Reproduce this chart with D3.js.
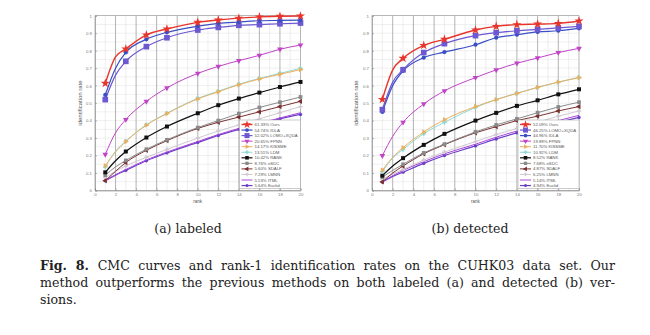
<!DOCTYPE html>
<html>
<head>
<meta charset="utf-8">
<script src="https://cdn.jsdelivr.net/npm/d3@7"></script>
<style>
body{margin:0;background:#fff;}
svg{display:block;}
</style>
</head>
<body>
<svg width="650" height="335"></svg>
<script>
// ranks where values were read; markers skip rank 2
var ranks = [1,2,3,5,7,10,12,14,16,18,20];
var markerRanks = [1,3,5,7,10,12,14,16,18,20];
var xTicks = [0,2,4,6,8,10,12,14,16,18,20];
var yTicks = [0,0.1,0.2,0.3,0.4,0.5,0.6,0.7,0.8,0.9,1];

// (a) labeled
var labNames = ["61.33% Ours","54.74% IDLA","52.02% LOMO+XQDA","20.65% FPNN","14.17% KISSME","13.51% LDM","10.42% RANK","8.76% eSDC","5.60% SDALF","7.29% LMNN","5.53% ITML","5.64% Euclid"];
var labOurs   = [0.613,0.765,0.81,0.89,0.924,0.962,0.975,0.986,0.993,0.997,0.998];
var labIDLA   = [0.547,0.70,0.79,0.865,0.905,0.94,0.956,0.964,0.971,0.973,0.975];
var labLOMO   = [0.520,0.66,0.739,0.823,0.874,0.918,0.933,0.945,0.949,0.954,0.958];
var labFPNN   = [0.2065,0.33,0.406,0.51,0.587,0.67,0.71,0.743,0.773,0.808,0.832];
var labKISSME = [0.142,0.22,0.28,0.374,0.44,0.524,0.565,0.605,0.638,0.665,0.691];
var labLDM    = [0.135,0.225,0.282,0.376,0.442,0.527,0.568,0.608,0.641,0.670,0.699];
var labRANK   = [0.104,0.17,0.223,0.303,0.366,0.442,0.488,0.526,0.56,0.592,0.621];
var labESDC   = [0.088,0.135,0.172,0.236,0.29,0.36,0.40,0.44,0.475,0.505,0.535];
var labSDALF  = [0.056,0.11,0.16,0.23,0.285,0.355,0.39,0.42,0.45,0.48,0.51];
var labLMNN   = [0.073,0.11,0.14,0.19,0.235,0.30,0.34,0.375,0.41,0.445,0.48];
var labITML   = [0.055,0.09,0.12,0.175,0.22,0.28,0.32,0.355,0.385,0.415,0.445];
var labEuclid = [0.056,0.088,0.115,0.17,0.215,0.275,0.315,0.35,0.38,0.41,0.435];

// (b) detected
var detNames = ["52.09% Ours","46.25% LOMO+XQDA","44.96% IDLA","19.89% FPNN","11.70% KISSME","10.92% LDM","8.52% RANK","7.68% eSDC","4.87% SDALF","6.25% LMNN","5.14% ITML","4.94% Euclid"];
var detOurs   = [0.521,0.69,0.756,0.83,0.865,0.918,0.939,0.949,0.952,0.956,0.97];
var detLOMO   = [0.4625,0.62,0.691,0.789,0.84,0.886,0.903,0.914,0.922,0.93,0.939];
var detIDLA   = [0.4496,0.60,0.684,0.76,0.792,0.834,0.874,0.891,0.907,0.914,0.928];
var detFPNN   = [0.199,0.31,0.39,0.495,0.57,0.646,0.69,0.728,0.758,0.789,0.813];
var detKISSME = [0.117,0.19,0.245,0.335,0.405,0.48,0.52,0.555,0.59,0.62,0.645];
var detLDM    = [0.109,0.185,0.235,0.325,0.39,0.475,0.52,0.557,0.59,0.62,0.648];
var detRANK   = [0.085,0.14,0.185,0.261,0.324,0.40,0.444,0.484,0.516,0.55,0.579];
var detESDC   = [0.077,0.115,0.15,0.215,0.265,0.335,0.375,0.41,0.445,0.478,0.505];
var detSDALF  = [0.049,0.10,0.14,0.21,0.262,0.33,0.365,0.40,0.425,0.455,0.48];
var detLMNN   = [0.0625,0.095,0.12,0.175,0.22,0.28,0.32,0.355,0.39,0.425,0.455];
var detITML   = [0.051,0.085,0.115,0.165,0.21,0.265,0.305,0.34,0.37,0.40,0.43];
var detEuclid = [0.049,0.08,0.105,0.155,0.20,0.255,0.295,0.33,0.36,0.39,0.418];

// styles per method
var styles = {
  "Ours":      {c:"#e8352c", sym:d3.symbolStar,     s:26, w:1.4},
  "IDLA":      {c:"#3a4fc4", sym:d3.symbolCircle,   s:14, w:1.2},
  "LOMO+XQDA": {c:"#6c58d0", sym:d3.symbolSquare,   s:32, w:1.2},
  "FPNN":      {c:"#c043c8", sym:d3.symbolTriangle, s:14, w:1.0, rot:180},
  "KISSME":    {c:"#eab060", sym:d3.symbolTriangle, s:12, w:1.0, rot:90},
  "LDM":       {c:"#8ed8d8", sym:d3.symbolCross,    s:12, w:1.0},
  "RANK":      {c:"#111111", sym:d3.symbolSquare,   s:16, w:1.2},
  "eSDC":      {c:"#8a8a8a", sym:d3.symbolSquare,   s:14, w:1.0},
  "SDALF":     {c:"#7a3030", sym:d3.symbolTriangle, s:12, w:1.0, rot:270},
  "LMNN":      {c:"#d0c8d0", sym:d3.symbolCross,    s:10, w:1.0},
  "ITML":      {c:"#a848d8", sym:null,              s:0,  w:1.0},
  "Euclid":    {c:"#6a3ec8", sym:d3.symbolCircle,   s:9,  w:1.2}
};

var svg = d3.select("svg");
var sans = "Arial, 'Liberation Sans', sans-serif";

function panel(names, series, x0, x1, yl){
  var x = d3.scaleLinear().domain([0,20]).range([x0,x1]);
  var y = d3.scaleLinear().domain([0,1]).range([190.5,15.7]);
  var g = svg.append("g");

  // grid
  g.selectAll(".hm").data(d3.range(0.05,1,0.05)).enter().append("line")
    .attr("x1",x0).attr("x2",x1).attr("y1",function(d){return y(d);}).attr("y2",function(d){return y(d);})
    .attr("stroke","#e6e6e6").attr("stroke-width",0.6);
  g.selectAll(".vm").data(d3.range(1,20,2)).enter().append("line")
    .attr("y1",y(0)).attr("y2",y(1)).attr("x1",function(d){return x(d);}).attr("x2",function(d){return x(d);})
    .attr("stroke","#e2e2e2").attr("stroke-width",0.6);
  g.selectAll(".vM").data(d3.range(2,20,2)).enter().append("line")
    .attr("y1",y(0)).attr("y2",y(1)).attr("x1",function(d){return x(d);}).attr("x2",function(d){return x(d);})
    .attr("stroke","#a0a0a0").attr("stroke-width",0.8);

  // axes
  var ax = g.append("g").attr("transform","translate(0,"+y(0)+")")
    .call(d3.axisBottom(x).tickValues(xTicks).tickSize(-2).tickPadding(2).tickFormat(d3.format("d")));
  var ay = g.append("g").attr("transform","translate("+x0+",0)")
    .call(d3.axisLeft(y).tickValues(yTicks).tickSize(-2).tickPadding(3).tickFormat(function(d){return d===0||d===1?String(d):d3.format(".1f")(d);}));
  [ax,ay].forEach(function(a){
    a.selectAll("path,line").attr("stroke","#888").attr("stroke-width",0.6);
    a.selectAll("text").attr("fill","#777").attr("font-family",sans).attr("font-size",4.3);
  });
  g.append("rect").attr("x",x0).attr("y",y(1)).attr("width",x1-x0).attr("height",y(0)-y(1))
    .attr("fill","none").attr("stroke","#888").attr("stroke-width",0.6);

  // curves
  var line = d3.line().x(function(d){return x(d[0]);}).y(function(d){return y(d[1]);}).curve(d3.curveMonotoneX);
  for (var i=series.length-1;i>=0;i--){
    var key = names[i].split(" ")[1], st = styles[key];
    var pts = ranks.map(function(r,k){return [r,series[i][k]];});
    g.append("path").attr("d",line(pts)).attr("fill","none").attr("stroke",st.c).attr("stroke-width",st.w);
    if (st.sym){
      var mk = pts.filter(function(p){return markerRanks.indexOf(p[0])>=0;});
      g.selectAll(null).data(mk).enter().append("path")
        .attr("d",d3.symbol().type(st.sym).size(st.s))
        .attr("transform",function(p){return "translate("+x(p[0])+","+y(p[1])+")rotate("+(st.rot||0)+")";})
        .attr("fill",st.c);
    }
  }

  // labels
  g.append("text").attr("x",(x0+x1)/2).attr("y",202.5).attr("text-anchor","middle")
    .attr("font-family",sans).attr("font-size",4.5).attr("fill","#555").text("rank");
  g.append("text").attr("transform","translate("+yl+",103)rotate(-90)").attr("text-anchor","middle")
    .attr("font-family",sans).attr("font-size",6).attr("fill","#555").text("identification rate");

  // legend
  var lx = x1-61, ly = 120, lh = 5.55;
  var lg = g.append("g");
  lg.append("rect").attr("x",lx).attr("y",ly).attr("width",61).attr("height",68.5)
    .attr("fill","#fff").attr("stroke","#999").attr("stroke-width",0.5);
  names.forEach(function(n,i){
    var st = styles[n.split(" ")[1]], yy = ly+4.5+i*lh;
    lg.append("line").attr("x1",lx+2).attr("x2",lx+13).attr("y1",yy).attr("y2",yy).attr("stroke",st.c).attr("stroke-width",st.w);
    if (st.sym) lg.append("path").attr("d",d3.symbol().type(st.sym).size(st.s*0.8))
      .attr("transform","translate("+(lx+7.5)+","+yy+")rotate("+(st.rot||0)+")").attr("fill",st.c);
    lg.append("text").attr("x",lx+15).attr("y",yy+1.5).attr("font-family",sans)
      .attr("font-size",4.3).attr("fill","#555").text(n);
  });
}

panel(labNames,[labOurs,labIDLA,labLOMO,labFPNN,labKISSME,labLDM,labRANK,labESDC,labSDALF,labLMNN,labITML,labEuclid],95,300.5,82);
panel(detNames,[detOurs,detLOMO,detIDLA,detFPNN,detKISSME,detLDM,detRANK,detESDC,detSDALF,detLMNN,detITML,detEuclid],372,579,358);

// captions
var serif = "'DejaVu Serif',serif";
svg.append("text").attr("x",188).attr("y",233).attr("text-anchor","middle").attr("font-family",serif).attr("font-size",12.5).attr("fill","#222").text("(a) labeled");
svg.append("text").attr("x",470).attr("y",233).attr("text-anchor","middle").attr("font-family",serif).attr("font-size",12.5).attr("fill","#222").text("(b) detected");

// justify a caption line by adjusting the spaces between words
function justify(t, w){
  var n = (t.text().match(/ /g) || []).length;
  var cur = t.node().getComputedTextLength();
  t.attr("word-spacing", ((w - cur) / n).toFixed(2));
}
var capSize = 12.6;
var cap = svg.append("text").attr("x",40).attr("y",270).attr("font-family",serif).attr("font-size",capSize).attr("fill","#222");
cap.append("tspan").attr("font-weight","bold").text("Fig. 8. ");
cap.append("tspan").text("CMC curves and rank-1 identification rates on the CUHK03 data set. Our");
justify(cap, 575);
var cap2 = svg.append("text").attr("x",40).attr("y",287).attr("font-family",serif).attr("font-size",capSize).attr("fill","#222")
  .text("method outperforms the previous methods on both labeled (a) and detected (b) ver-");
justify(cap2, 575);
svg.append("text").attr("x",40).attr("y",304).attr("font-family",serif).attr("font-size",capSize).attr("fill","#222").text("sions.");
</script>
</body>
</html>
